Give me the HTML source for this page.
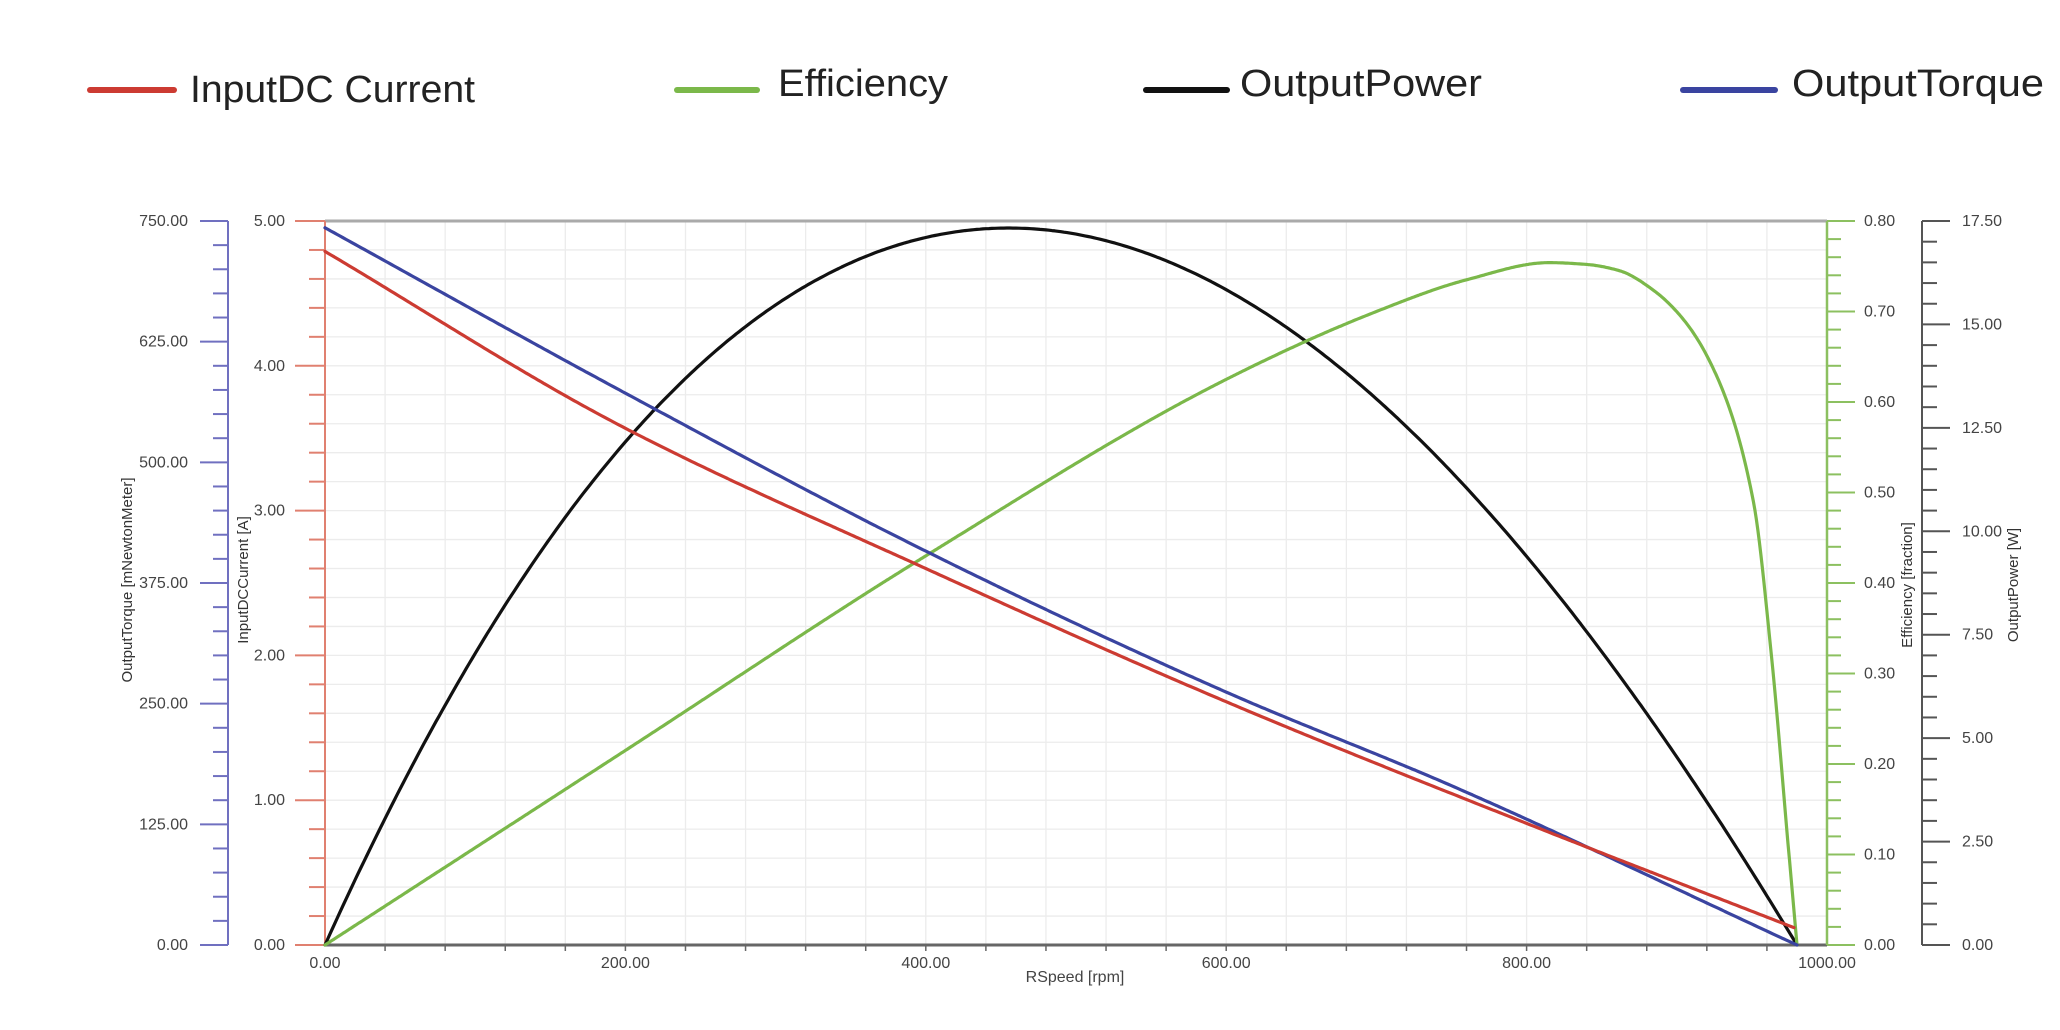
<!DOCTYPE html>
<html><head><meta charset="utf-8">
<style>
html,body{margin:0;padding:0;background:#fff;}
svg{display:block;}
text{font-family:"Liberation Sans",sans-serif;}
</style></head>
<body>
<svg id="s" width="2060" height="1030" viewBox="0 0 2060 1030" xmlns="http://www.w3.org/2000/svg">
<g id="grid" stroke="#ececec" stroke-width="1.3"></g>
<g id="axes"></g>
<g id="curves" fill="none" stroke-width="3.2" stroke-linejoin="round" stroke-linecap="round"></g>
<g font-size="38" fill="#222">
<line x1="90" y1="90" x2="174" y2="90" stroke="#cc3b32" stroke-width="6" stroke-linecap="round"/>
<text x="190" y="102" textLength="285" lengthAdjust="spacingAndGlyphs">InputDC Current</text>
<line x1="677" y1="90" x2="757" y2="90" stroke="#7bb84a" stroke-width="6" stroke-linecap="round"/>
<text x="778" y="96" textLength="170" lengthAdjust="spacingAndGlyphs">Efficiency</text>
<line x1="1146" y1="90" x2="1227" y2="90" stroke="#111" stroke-width="6" stroke-linecap="round"/>
<text x="1240" y="96" textLength="242" lengthAdjust="spacingAndGlyphs">OutputPower</text>
<line x1="1683" y1="90" x2="1775" y2="90" stroke="#3a44a0" stroke-width="6" stroke-linecap="round"/>
<text x="1792" y="96" textLength="252" lengthAdjust="spacingAndGlyphs">OutputTorque</text>
</g>
<text x="1075" y="982" font-size="16" fill="#444" text-anchor="middle">RSpeed [rpm]</text>
<text transform="translate(132,580) rotate(-90)" font-size="15" fill="#333" text-anchor="middle">OutputTorque [mNewtonMeter]</text>
<text transform="translate(248,580) rotate(-90)" font-size="15" fill="#333" text-anchor="middle">InputDCCurrent [A]</text>
<text transform="translate(1912,585) rotate(-90)" font-size="15" fill="#333" text-anchor="middle">Efficiency [fraction]</text>
<text transform="translate(2018,585) rotate(-90)" font-size="15" fill="#333" text-anchor="middle">OutputPower [W]</text>
</svg>
<script>
var NS="http://www.w3.org/2000/svg";
function el(p,t,a,txt){var e=document.createElementNS(NS,t);for(var k in a)e.setAttribute(k,a[k]);if(txt!==undefined)e.textContent=txt;p.appendChild(e);return e;}
var X0=325,X1=1827,Y0=945,Y1=221,H=Y0-Y1;
function xp(n){return X0+(X1-X0)*n/1000;}
var grid=document.getElementById('grid'),ax=document.getElementById('axes'),cv=document.getElementById('curves');
for(var n=40;n<1000;n+=40){el(grid,'line',{x1:xp(n),y1:Y1,x2:xp(n),y2:Y0});}
for(var a=0.2;a<5;a+=0.2){var y=Y0-H*a/5;el(grid,'line',{x1:X0,y1:y,x2:X1,y2:y});}
el(ax,'line',{x1:X0,y1:Y1,x2:X1,y2:Y1,stroke:'#aaa','stroke-width':3});
el(ax,'line',{x1:X0,y1:Y0,x2:X1,y2:Y0,stroke:'#666','stroke-width':3});
for(var n=40;n<1000;n+=40){el(ax,'line',{x1:xp(n),y1:Y0,x2:xp(n),y2:Y0+6,stroke:'#666','stroke-width':1.5});}
for(var n=0;n<=1000;n+=200){el(ax,'text',{x:xp(n),y:968,'font-size':16,fill:'#444','text-anchor':'middle'},n.toFixed(2));}
el(ax,'line',{x1:228,y1:Y1,x2:228,y2:Y0,stroke:'#7070c0','stroke-width':2});
for(var i=0;i<=30;i++){var y=Y0-H*i/30,maj=i%5==0;el(ax,'line',{x1:maj?200:213,y1:y,x2:228,y2:y,stroke:'#7070c0','stroke-width':2});
 if(maj)el(ax,'text',{x:188,y:y+5,'font-size':16,fill:'#444','text-anchor':'end'},(i*25).toFixed(2));}
el(ax,'line',{x1:X0,y1:Y1,x2:X0,y2:Y0,stroke:'#e08070','stroke-width':2});
for(var i=0;i<=25;i++){var y=Y0-H*i/25,maj=i%5==0;el(ax,'line',{x1:maj?295:309,y1:y,x2:X0,y2:y,stroke:'#e08070','stroke-width':2});
 if(maj)el(ax,'text',{x:285,y:y+5,'font-size':16,fill:'#444','text-anchor':'end'},(i/5).toFixed(2));}
el(ax,'line',{x1:X1,y1:Y1,x2:X1,y2:Y0,stroke:'#8cc060','stroke-width':2.5});
for(var i=0;i<=40;i++){var y=Y0-H*i/40,maj=i%5==0;el(ax,'line',{x1:X1,y1:y,x2:maj?1855:1841,y2:y,stroke:'#8cc060','stroke-width':2});
 if(maj)el(ax,'text',{x:1864,y:y+5,'font-size':16,fill:'#444'},(i/50).toFixed(2));}
el(ax,'line',{x1:1922,y1:Y1,x2:1922,y2:Y0,stroke:'#555','stroke-width':2});
for(var i=0;i<=35;i++){var y=Y0-H*i/35,maj=i%5==0;el(ax,'line',{x1:1922,y1:y,x2:maj?1950:1937,y2:y,stroke:'#555','stroke-width':2});
 if(maj)el(ax,'text',{x:1962,y:y+5,'font-size':16,fill:'#444'},(i/2).toFixed(2));}
function mono(pts){var n=pts.length,d=[],m=[];for(var i=0;i<n-1;i++)d.push((pts[i+1][1]-pts[i][1])/(pts[i+1][0]-pts[i][0]));
 m[0]=d[0];m[n-1]=d[n-2];for(var i=1;i<n-1;i++){if(d[i-1]*d[i]<=0)m[i]=0;else{var w1=2*(pts[i+1][0]-pts[i][0])+(pts[i][0]-pts[i-1][0]),w2=(pts[i+1][0]-pts[i][0])+2*(pts[i][0]-pts[i-1][0]);m[i]=(w1+w2)/(w1/d[i-1]+w2/d[i]);}}
 return function(x){for(var i=0;i<n-1;i++){if(x<=pts[i+1][0]){var h=pts[i+1][0]-pts[i][0],t=(x-pts[i][0])/h,t2=t*t,t3=t2*t;
 return (2*t3-3*t2+1)*pts[i][1]+(t3-2*t2+t)*h*m[i]+(-2*t3+3*t2)*pts[i+1][1]+(t3-t2)*h*m[i+1];}}return pts[n-1][1];};}
var red=mono([[0,4.79],[196,3.59],[400,2.6],[600,1.68],[800,0.84],[978,0.12]]);
var blue=mono([[0,743],[196,575],[400,408],[600,262],[750,165],[980,0]]);
var green=mono([[0,0],[200,0.215],[400,0.43],[600,0.625],[700,0.70],[760,0.735],[815,0.754],[840,0.752],[862,0.745],[884,0.724],[905,0.69],[927,0.627],[951,0.49],[963,0.32],[975,0.094],[980,0]]);
var S=0.253,pk=0.464*0.536*(1-S*0.464);
function power(n){var u=n/980;return 17.33*u*(1-u)*(1-S*u)/pk;}
function path(f,n0,n1,step,yf){var d='';for(var n=n0;n<=n1+1e-9;n+=step){d+=(d?'L':'M')+xp(n).toFixed(1)+','+yf(f(n)).toFixed(1);}return d;}
el(cv,'path',{d:path(power,0,980,2,function(v){return Y0-H*v/17.5;}),stroke:'#111'});
el(cv,'path',{d:path(green,0,980,1,function(v){return Y0-H*v/0.8;}),stroke:'#7bb84a'});
el(cv,'path',{d:path(blue,0,980,2,function(v){return Y0-H*v/750;}),stroke:'#3a44a0'});
el(cv,'path',{d:path(red,0,978,2,function(v){return Y0-H*v/5;}),stroke:'#cc3b32'});
</script>
</body></html>
